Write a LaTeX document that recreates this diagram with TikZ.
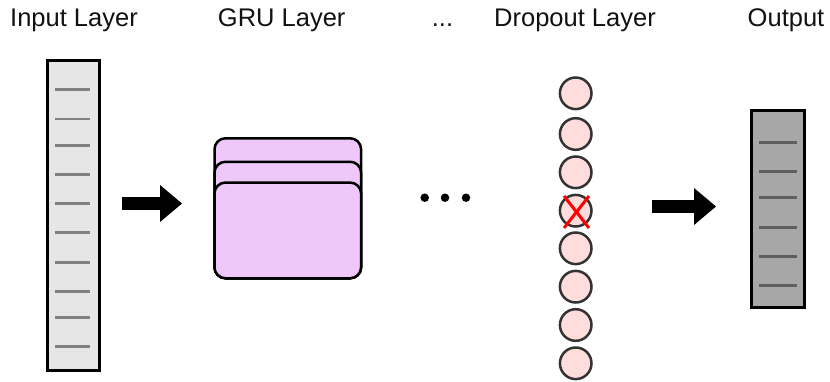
\documentclass[tikz,border=0pt]{standalone}
\usepackage{fontspec}
\setmainfont{Liberation Sans}
\usetikzlibrary{arrows.meta}
\definecolor{inputfill}{RGB}{230,230,230}
\definecolor{inputtick}{RGB}{128,128,128}
\definecolor{outfill}{RGB}{167,167,167}
\definecolor{outtick}{RGB}{95,95,95}
\definecolor{grufill}{RGB}{238,200,248}
\definecolor{unitfill}{RGB}{255,221,221}
\definecolor{unitedge}{RGB}{51,51,51}
\definecolor{labelcol}{RGB}{17,17,17}
\tikzset{
  title/.style={anchor=base, inner sep=0pt, text=labelcol,
    font=\fontsize{25.5}{30}\selectfont},
  layerbar/.style={draw=black, line width=3pt, inner sep=0pt},
  tick/.style={line width=2.5pt},
  grucell/.style={draw=black, fill=grufill, line width=2.5pt, rounded corners=11pt,
    inner sep=0pt, anchor=north, minimum width=146.6pt},
  unit/.style={circle, draw=unitedge, fill=unitfill, line width=2.5pt,
    minimum size=31.6pt, inner sep=0pt},
  flow/.style={line width=13pt,
    -{Triangle[length=22pt,width=37pt,line width=0pt]}},
  dot/.style={circle, fill=black, minimum size=8.5pt, inner sep=0pt}
}
\begin{document}
\begin{tikzpicture}[x=1pt,y=-1pt]
\useasboundingbox (0,0) rectangle (830,381);

% column titles
\node[title] (tin)  at (74,26.7)    {Input Layer};
\node[title] (tgru) at (281.7,26.7) {GRU Layer};
\node[title] (tdot) at (442.5,26.7) {...};
\node[title] (tdrp) at (575,26.7)   {Dropout Layer};
\node[title] (tout) at (786,26.7)   {Output};

% input vector
\node[layerbar, fill=inputfill, minimum width=52pt, minimum height=310pt] (in) at (73.5,215.5) {};
\foreach \y in {89.3,119,145.3,174.3,203.3,232.3,262.3,291.3,317.3,346.3}
  \draw[tick, draw=inputtick] (55,\y) -- (90,\y);

% arrow into the GRU stack
\coordinate (a1s) at (122,203.5);
\coordinate (a1e) at (182,203.5);
\draw[flow] (a1s) -- (a1e);

% stacked GRU cells
\node[grucell, minimum height=140pt] (g3) at (287.8,137) {};
\node[grucell, minimum height=116.5pt] (g2) at (287.8,160.5) {};
\node[grucell, minimum height=95.7pt] (g1) at (287.8,181.3) {};

% ellipsis between layers
\node[dot] (d1) at (424.7,197.7) {};
\node[dot] (d2) at (445,197.7) {};
\node[dot] (d3) at (466,197.7) {};

% dropout units
\foreach \y [count=\i] in {93.3,134,172.3,210.7,248.3,286.7,325,363.3}
  \node[unit] (u\i) at (575.7,\y) {};
\draw[red, line width=3pt] (564,196) -- (589,228);
\draw[red, line width=3pt] (589,196) -- (564,228);

% arrow into the output
\coordinate (a2s) at (652,206.5);
\coordinate (a2e) at (716,206.5);
\draw[flow] (a2s) -- (a2e);

% output vector
\node[layerbar, fill=outfill, minimum width=52.7pt, minimum height=197pt] (out) at (777.85,209.3) {};
\foreach \y in {142.3,171.3,197.3,227.3,256.3,285.3}
  \draw[tick, draw=outtick] (759,\y) -- (796.7,\y);
\end{tikzpicture}
\end{document}
